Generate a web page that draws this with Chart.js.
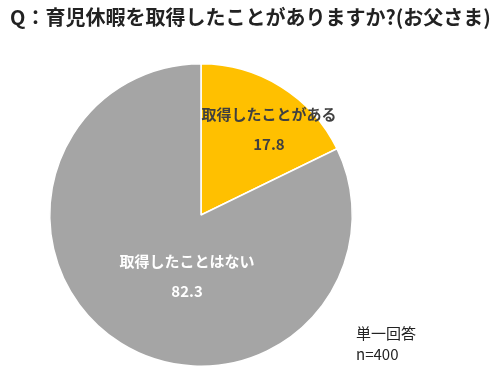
<!DOCTYPE html>
<html>
<head>
<meta charset="utf-8">
<script src="https://cdn.jsdelivr.net/npm/chart.js@4"></script>
<style>
  body { margin: 0; background: #fff; }
  #wrap { position: relative; width: 500px; height: 378px; }
  #title { position: absolute; left: 10px; top: 2px; font: bold 20px "Noto Sans CJK JP", sans-serif; color: #222; white-space: nowrap; }
  #note { position: absolute; left: 356px; top: 322px; font: 15px "Noto Sans CJK JP", sans-serif; color: #222; line-height: 21px; }
</style>
</head>
<body>
<div id="wrap">
  <canvas id="pie" width="500" height="378"></canvas>
  <div id="title">Q：育児休暇を取得したことがありますか?(お父さま)</div>
  <div id="note">単一回答<br>n=400</div>
</div>
<script>
// Data for the pie
const answers = ['取得したことがある', '取得したことはない'];
const shares = [17.8, 82.3];
const sliceColors = ['#FFC000', '#A5A5A5'];
const labelColors = ['#404040', '#FFFFFF'];
// where the labels sit: angle from 12 o'clock (deg) and fraction of radius
const labelAngle = [38, 193];
const labelDist = [0.73, 0.41];

// Draws category name + value inside each slice
const sliceLabels = {
    id: 'sliceLabels',
    afterDatasetsDraw(chart) {
        const ctx = chart.ctx;
        const arcs = chart.getDatasetMeta(0).data;
        ctx.save();
        ctx.textAlign = 'center';
        ctx.textBaseline = 'middle';
        ctx.font = 'bold 15px "Noto Sans CJK JP", sans-serif';
        arcs.forEach((arc, i) => {
            const a = labelAngle[i] * Math.PI / 180;
            const r = arc.outerRadius * labelDist[i];
            const x = arc.x + Math.sin(a) * r;
            const y = arc.y - Math.cos(a) * r;
            ctx.fillStyle = labelColors[i];
            ctx.fillText(answers[i], x, y - 14);
            ctx.fillText(shares[i].toFixed(1), x, y + 16);
        });
        ctx.restore();
    }
};

new Chart(document.getElementById('pie'), {
    type: 'pie',
    data: {
        labels: answers,
        datasets: [{
            data: shares,
            backgroundColor: sliceColors,
            borderColor: '#FFFFFF',
            borderWidth: 1.5
        }]
    },
    options: {
        responsive: false,
        animation: false,
        layout: { padding: { left: 49, right: 147, top: 63, bottom: 11 } },
        plugins: {
            legend: { display: false },
            tooltip: { enabled: false }
        }
    },
    plugins: [sliceLabels]
});
</script>
</body>
</html>
